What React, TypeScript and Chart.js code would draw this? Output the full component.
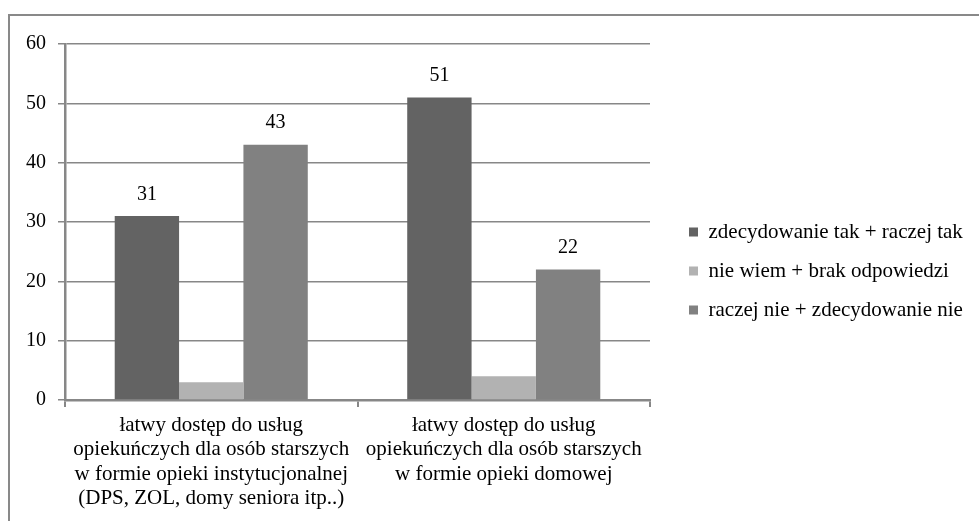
import React, { useEffect, useRef } from "react";
import { Chart, registerables } from "chart.js";

Chart.register(...registerables);

// ---- data ----
const categories: string[][] = [
  [
    "łatwy dostęp do usług",
    "opiekuńczych dla osób starszych",
    "w formie opieki instytucjonalnej",
    "(DPS, ZOL, domy seniora itp..)",
  ],
  ["łatwy dostęp do usług", "opiekuńczych dla osób starszych", "w formie opieki domowej"],
];
const seriesNames = [
  "zdecydowanie tak + raczej tak",
  "nie wiem + brak odpowiedzi",
  "raczej nie + zdecydowanie nie",
];
const yesValues = [31, 51];
const dontKnowValues = [3, 4];
const noValues = [43, 22];
const labelledSeries = [0, 2];
const yMin = 0;
const yMax = 60;
const yStep = 10;

// ---- styles ----
const FONT = "'Liberation Serif', 'Times New Roman', serif";
const seriesColors = ["#636363", "#b2b2b2", "#818181"];
const lineColor = "#878787";

const valueLabels = {
  id: "valueLabels",
  afterDatasetsDraw(chart: any) {
    const ctx = chart.ctx;
    ctx.save();
    ctx.font = `20px ${FONT}`;
    ctx.fillStyle = "#000";
    ctx.textAlign = "center";
    ctx.textBaseline = "alphabetic";
    labelledSeries.forEach((di) => {
      const meta = chart.getDatasetMeta(di);
      meta.data.forEach((el: any, i: number) => {
        const v = chart.data.datasets[di].data[i];
        ctx.fillText(String(v), el.x, el.y - 16.5);
      });
    });
    ctx.restore();
  },
};

const legendPlacement = {
  id: "legendPlacement",
  beforeLayout(chart: any) {
    const lg = chart.legend;
    if (lg && !lg.__patched) {
      const orig = lg.fit.bind(lg);
      lg.fit = function () {
        orig();
        this.width = chart.width - 4 - 650;
      };
      lg.__patched = true;
    }
  },
  afterLayout(chart: any) {
    const lg = chart.legend;
    if (lg) {
      const w = lg.right - lg.left;
      lg.left = 671;
      lg.right = 671 + w;
      lg.top -= 11.5;
      lg.bottom -= 11.5;
    }
  },
};

export default function App() {
  const ref = useRef<HTMLCanvasElement>(null);

  useEffect(() => {
    document.body.style.overflow = "hidden";
    const chart = new Chart(ref.current as HTMLCanvasElement, {
      type: "bar",
      data: {
        labels: categories,
        datasets: [
          { label: seriesNames[0], data: yesValues, backgroundColor: seriesColors[0] },
          { label: seriesNames[1], data: dontKnowValues, backgroundColor: seriesColors[1] },
          { label: seriesNames[2], data: noValues, backgroundColor: seriesColors[2] },
        ].map((d) => ({ ...d, borderWidth: 0, barPercentage: 1, categoryPercentage: 0.66 })),
      },
      options: {
        responsive: false,
        animation: false,
        devicePixelRatio: 1,
        events: [],
        layout: { padding: { top: 44, bottom: 0, left: 0, right: 4 } },
        plugins: {
          legend: {
            position: "right",
            align: "center",
            labels: {
              boxWidth: 9,
              boxHeight: 9,
              padding: 18,
              color: "#000",
              font: { family: FONT, size: 21 },
            },
          },
          tooltip: { enabled: false },
          title: { display: false },
        },
        scales: {
          x: {
            offset: true,
            grid: {
              display: true,
              drawOnChartArea: false,
              drawTicks: true,
              tickLength: 7,
              color: lineColor,
              lineWidth: 2,
              offset: true,
            },
            border: { display: true, color: lineColor, width: 2.5 },
            ticks: {
              color: "#000",
              font: { family: FONT, size: 21, lineHeight: 1.167 },
              padding: 6,
              maxRotation: 0,
              minRotation: 0,
              autoSkip: false,
            },
            afterFit(s: any) {
              s.height = 121;
            },
          },
          y: {
            min: yMin,
            max: yMax,
            grid: {
              color: lineColor,
              lineWidth: 1.5,
              tickLength: 7,
              drawTicks: true,
            },
            border: { display: true, color: lineColor, width: 2.5 },
            ticks: {
              stepSize: yStep,
              color: "#000",
              font: { family: FONT, size: 20 },
              padding: 12,
            },
            afterFit(s: any) {
              s.width = 65;
            },
          },
        },
      },
      plugins: [valueLabels, legendPlacement],
    } as any);
    return () => chart.destroy();
  }, []);

  return (
    <>
      <div
        style={{
          position: "absolute",
          left: 8,
          top: 14,
          width: 971,
          height: 507,
          borderTop: "2px solid #898989",
          borderLeft: "2px solid #898989",
          boxSizing: "border-box",
        }}
      />
      <div style={{ position: "absolute", left: 0, top: 0, width: 979, height: 521 }}>
        <canvas ref={ref} width={979} height={521} style={{ display: "block" }} />
      </div>
    </>
  );
}
